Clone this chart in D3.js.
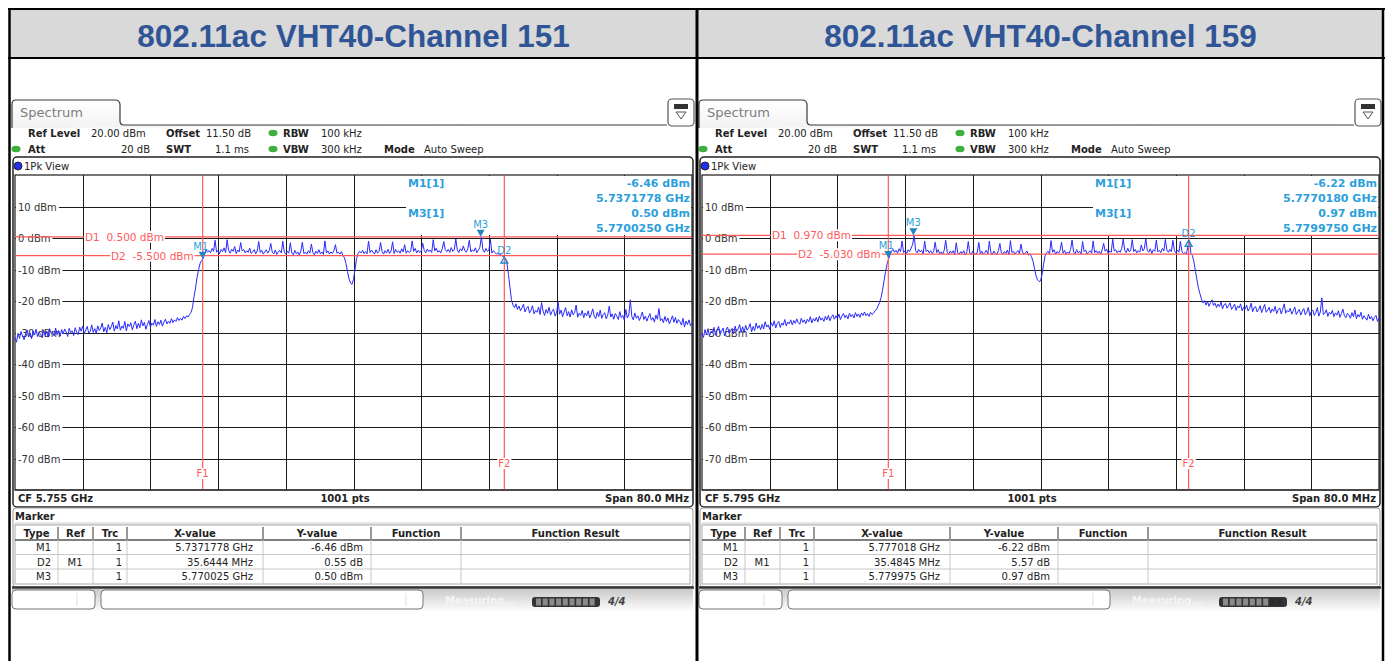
<!DOCTYPE html>
<html><head><meta charset="utf-8">
<script src="https://cdn.jsdelivr.net/npm/d3@7/dist/d3.min.js"></script>
<style>
body{margin:0;background:#fff;}
svg{display:block;}
</style>
</head><body>
<svg id="c" width="1391" height="661"></svg>
<script>
// ---------------- DATA ----------------
const panelTitles = ["802.11ac VHT40-Channel 151", "802.11ac VHT40-Channel 159"];
const centerFreqGHz = [5.755, 5.795];
const spanMHz = 80;
const sweepPoints = "1001 pts";
const levelTicks = [10, 0, -10, -20, -30, -40, -50, -60, -70];
const levelRange = [-80, 20];
const d1Levels = [0.5, 0.97];
const d2Levels = [-5.5, -5.03];
const d1Labels = ["D1  0.500 dBm", "D1  0.970 dBm"];
const d2Labels = ["D2  -5.500 dBm", "D2  -5.030 dBm"];
const f1GHz = [5.7371778, 5.777018];
const f2GHz = [5.7728222, 5.8125025];
const m1Freq = [5.7371778, 5.777018];
const m1Level = [-6.46, -6.22];
const m3Freq = [5.770025, 5.779975];
const m3Level = [0.50, 0.97];
const d2DeltaMHz = [35.6444, 35.4845];
const d2DeltaDb = [0.55, 5.57];
const markerInfo = [
  ["-6.46 dBm", "5.7371778 GHz", "0.50 dBm", "5.7700250 GHz"],
  ["-6.22 dBm", "5.7770180 GHz", "0.97 dBm", "5.7799750 GHz"]
];
const tableHeader = ["Type", "Ref", "Trc", "X-value", "Y-value", "Function", "Function Result"];
const tableRows = [
  [["M1", "", "1", "5.7371778 GHz", "-6.46 dBm", "", ""],
   ["D2", "M1", "1", "35.6444 MHz", "0.55 dB", "", ""],
   ["M3", "", "1", "5.770025 GHz", "0.50 dBm", "", ""]],
  [["M1", "", "1", "5.777018 GHz", "-6.22 dBm", "", ""],
   ["D2", "M1", "1", "35.4845 MHz", "5.57 dB", "", ""],
   ["M3", "", "1", "5.779975 GHz", "0.97 dBm", "", ""]]
];
// trace samples (dBm), evenly spaced sweep points across the 80 MHz span
const traceCh151 = [
  -31.5,-33.0,-30.2,-31.8,-29.6,-31.0,-32.2,-30.4,-29.1,-31.3,
  -30.0,-31.9,-29.4,-30.7,-28.9,-31.2,-29.8,-30.5,-31.6,-29.2,
  -30.8,-29.5,-31.4,-28.7,-30.2,-29.9,-31.0,-28.5,-30.6,-29.3,
  -31.1,-29.0,-30.4,-28.8,-29.7,-31.2,-28.6,-30.0,-29.4,-30.9,
  -28.4,-29.8,-30.6,-28.2,-29.5,-27.9,-30.3,-29.1,-28.0,-30.1,
  -29.6,-27.5,-29.9,-28.7,-30.2,-27.8,-29.3,-28.5,-26.9,-29.7,
  -28.3,-30.0,-27.4,-29.0,-28.1,-26.6,-29.5,-27.7,-28.8,-26.2,
  -29.2,-27.9,-28.6,-26.4,-29.4,-27.2,-28.0,-26.8,-29.1,-27.5,
  -26.3,-28.7,-27.0,-28.4,-25.9,-27.8,-26.7,-28.9,-27.3,-26.1,
  -28.2,-26.9,-27.6,-25.8,-28.0,-26.5,-27.4,-26.0,-27.9,-26.6,
  -25.7,-27.2,-26.3,-27.0,-25.5,-26.8,-25.9,-26.4,-25.2,-26.1,
  -25.4,-26.0,-24.8,-25.5,-24.6,-25.0,-24.2,-23.5,-22.0,-18.5,
  -15.8,-12.5,-10.0,-8.0,-7.0,-6.46,-4.8,-3.6,-4.3,-3.9,
  -4.6,-3.2,-4.1,-0.6,-4.4,-3.8,-4.9,-3.5,-4.2,-3.0,
  -4.5,-0.4,-3.9,-4.7,-3.4,-4.1,-2.6,-4.8,-3.7,-4.3,
  -1.3,-4.0,-3.5,-4.6,-3.9,-4.4,-3.1,-4.8,-4.2,-3.6,
  -4.9,-4.0,-1.0,-4.5,-3.8,-5.0,-4.3,-3.6,-4.7,-3.9,
  -1.6,-4.4,-4.9,-3.7,-5.1,-4.2,-3.9,-4.6,-0.9,-4.3,
  -5.0,-4.1,-4.7,-1.4,-4.6,-5.2,-3.8,-4.9,-4.3,-5.3,
  -4.0,-1.2,-4.8,-4.4,-5.0,-3.9,-4.7,-1.8,-4.5,-5.2,
  -4.1,-4.8,-3.6,-4.9,-4.3,-5.1,-0.8,-4.6,-4.0,-5.0,
  -4.3,-4.8,-3.9,-2.0,-4.7,-4.4,-5.0,-4.2,-5.4,-6.2,
  -8.0,-10.5,-12.8,-14.2,-14.6,-13.0,-9.8,-6.5,-4.9,-4.1,
  -4.6,-3.8,-4.8,-4.2,-4.9,-0.9,-4.5,-3.7,-4.4,-5.0,
  -3.6,-4.7,-4.1,-1.3,-4.2,-5.0,-3.9,-4.6,-3.5,-4.8,
  -4.0,-1.1,-4.8,-3.5,-4.4,-4.0,-4.7,-3.3,-4.3,-2.0,
  -4.7,-3.9,-4.5,-4.1,-0.8,-4.1,-3.2,-4.6,-3.8,-4.5,
  -4.0,-1.5,-3.8,-4.6,-3.4,-4.2,-3.7,-4.5,-0.4,-4.0,
  -3.1,-4.4,-3.9,-4.6,-3.3,-1.0,-3.6,-4.2,-3.5,-4.4,
  -2.9,-4.1,-3.6,-0.2,-3.7,-4.5,-3.3,-4.0,-2.4,-3.9,
  -4.4,-3.2,-0.6,-4.3,-3.6,-4.1,-3.0,-4.5,-3.8,-2.8,
  0.5,-3.6,-4.4,-3.2,-4.1,-3.7,-0.3,-4.7,-3.9,-4.5,
  -5.0,-4.6,-5.4,-5.1,-5.7,-5.9,-6.5,-8.0,-11.5,-15.5,
  -19.5,-21.2,-22.0,-20.8,-22.6,-21.5,-23.0,-22.1,-20.9,-23.4,
  -22.3,-21.6,-23.7,-22.8,-21.4,-24.0,-22.9,-23.5,-21.8,-24.2,
  -20.4,-23.1,-24.5,-22.6,-23.8,-21.9,-24.4,-23.2,-22.5,-24.7,
  -23.6,-20.3,-24.1,-22.8,-24.9,-23.4,-22.0,-24.6,-23.3,-25.0,
  -22.7,-24.3,-23.6,-21.2,-25.1,-23.8,-24.5,-22.9,-25.2,-23.7,
  -24.6,-23.0,-25.3,-24.1,-22.4,-24.8,-25.5,-23.5,-24.9,-22.8,
  -25.4,-24.2,-23.6,-25.6,-24.4,-21.5,-25.0,-24.0,-25.7,-23.9,
  -24.7,-25.8,-23.3,-25.2,-24.5,-26.0,-22.6,-25.3,-24.3,-19.5,
  -24.8,-25.9,-23.7,-25.4,-24.6,-26.1,-24.9,-23.4,-25.8,-24.7,
  -26.3,-25.0,-23.9,-26.0,-25.2,-26.6,-24.4,-25.7,-22.3,-26.2,
  -25.5,-26.8,-24.8,-26.4,-25.3,-27.2,-25.9,-24.6,-26.7,-25.1,
  -27.0,-25.8,-26.5,-27.6,-25.4,-28.2,-26.3,-27.4,-25.9,-27.8,
  -26.8
];
const traceCh159 = [
  -30.2,-31.5,-29.0,-30.6,-28.7,-31.1,-29.5,-30.0,-28.3,-30.8,
  -29.2,-28.0,-30.4,-29.6,-28.5,-31.0,-29.1,-28.2,-30.1,-29.4,
  -28.6,-30.3,-27.9,-29.5,-28.8,-27.4,-29.9,-28.1,-30.0,-27.6,
  -29.2,-28.4,-27.1,-29.7,-28.0,-29.3,-26.9,-28.6,-27.7,-29.0,
  -27.3,-28.8,-26.5,-28.2,-27.5,-28.9,-26.8,-27.9,-26.2,-28.5,
  -27.1,-26.4,-28.3,-26.9,-27.6,-25.8,-27.8,-26.6,-27.2,-25.9,
  -27.5,-26.1,-27.0,-25.6,-26.8,-27.3,-25.4,-26.7,-25.9,-27.1,
  -25.7,-26.5,-24.9,-26.9,-25.5,-26.3,-25.1,-26.6,-24.7,-26.0,
  -25.3,-26.4,-24.8,-25.9,-24.5,-26.2,-25.0,-24.3,-25.7,-24.6,
  -25.4,-24.1,-25.8,-24.7,-23.9,-25.2,-24.4,-25.6,-23.8,-24.9,
  -24.2,-25.3,-23.6,-24.8,-24.0,-25.1,-23.7,-24.5,-23.4,-24.6,
  -23.9,-24.8,-23.5,-24.2,-23.8,-23.0,-22.6,-21.5,-20.5,-18.8,
  -16.5,-13.5,-10.5,-8.2,-6.6,-5.2,-4.1,-3.5,-4.4,-3.8,
  -4.7,-3.3,-4.2,-0.8,-4.5,-3.9,-4.8,-3.6,-4.2,-3.1,
  -2.0,0.97,-3.9,-4.6,-3.5,-4.3,-3.8,-4.9,-0.9,-4.2,
  -3.7,-4.6,-3.9,-4.8,-4.1,-1.2,-4.5,-3.6,-4.9,-4.3,
  -5.0,-3.8,-0.6,-4.4,-5.1,-4.0,-4.7,-3.9,-5.2,-1.4,
  -4.6,-5.0,-4.2,-4.8,-3.9,-5.3,-4.4,-1.0,-4.7,-5.1,
  -4.0,-4.8,-5.2,-4.3,-1.3,-4.9,-4.1,-5.0,-4.5,-3.8,
  -4.9,-0.9,-4.4,-5.2,-4.0,-4.7,-5.1,-3.9,-1.6,-4.6,
  -5.0,-4.2,-4.8,-3.7,-5.2,-0.7,-4.5,-4.1,-5.0,-4.4,
  -3.9,-4.8,-1.8,-4.3,-5.1,-4.6,-4.0,-5.3,-4.9,-5.8,
  -7.2,-9.5,-11.8,-13.2,-13.7,-13.5,-11.5,-8.4,-5.6,-4.6,
  -4.1,-4.9,-0.7,-4.4,-3.6,-5.0,-4.2,-4.7,-3.8,-1.2,
  -4.7,-3.8,-5.1,-4.3,-4.8,-3.5,-0.5,-4.3,-4.9,-3.6,
  -4.6,-4.1,-5.0,-1.0,-4.2,-3.7,-5.0,-4.4,-3.9,-4.7,
  -0.8,-4.5,-3.9,-4.7,-4.1,-5.0,-3.6,-1.6,-4.1,-3.4,
  -4.8,-4.0,-4.4,-0.3,-4.0,-3.6,-4.6,-3.9,-4.4,-3.2,
  -0.2,-3.8,-4.5,-3.1,-4.3,-3.7,-0.4,-4.2,-3.5,-4.6,
  -3.9,-4.4,-2.1,-4.0,-3.3,-0.1,-3.9,-4.4,-3.3,-4.8,
  -3.6,-4.1,-0.5,-4.3,-3.8,-4.5,-3.2,-4.0,-0.3,-3.7,
  -4.4,-3.5,-4.2,-0.6,-3.9,-4.6,-3.7,-4.4,-0.9,-4.2,
  -4.8,-4.5,-5.0,-2.5,-0.65,-4.8,-5.5,-7.5,-10.5,-13.2,
  -15.8,-17.6,-19.3,-20.5,-19.8,-21.2,-20.1,-21.6,-20.4,-19.5,
  -21.3,-20.6,-22.0,-20.9,-21.7,-20.2,-22.4,-21.1,-20.7,-22.2,
  -21.4,-20.5,-22.6,-21.8,-20.9,-22.9,-21.5,-22.1,-20.8,-23.0,
  -21.9,-22.5,-21.2,-23.1,-22.3,-20.6,-23.3,-22.0,-21.7,-23.4,
  -22.6,-21.4,-23.6,-22.2,-21.0,-23.5,-22.8,-21.9,-23.7,-22.4,
  -23.2,-21.6,-23.9,-22.7,-22.1,-24.0,-22.5,-20.8,-23.8,-22.9,
  -23.4,-22.2,-24.1,-23.0,-21.8,-24.2,-23.3,-22.6,-24.4,-23.1,
  -22.3,-24.3,-23.5,-21.9,-24.6,-23.2,-22.8,-24.5,-23.6,-22.0,
  -24.7,-23.4,-18.9,-24.2,-23.8,-22.7,-24.8,-23.5,-24.1,-22.9,
  -24.9,-23.7,-24.4,-23.0,-25.1,-23.9,-22.5,-24.6,-25.2,-23.8,
  -24.3,-25.4,-23.6,-24.9,-22.8,-25.5,-24.2,-25.0,-23.5,-25.7,
  -24.6,-25.3,-26.0,-24.1,-25.6,-24.8,-26.2,-25.1,-24.5,-26.4,
  -25.3
];
const traces = [traceCh151, traceCh159];

// ---------------- DRAWING ----------------
const svg = d3.select("#c");
const defs = svg.append("defs");
const gStat = defs.append("linearGradient").attr("id","statg").attr("x1",0).attr("y1",0).attr("x2",0).attr("y2",1);
gStat.append("stop").attr("offset","0").attr("stop-color","#c9c9c9");
gStat.append("stop").attr("offset","1").attr("stop-color","#ffffff");
const gTab = defs.append("linearGradient").attr("id","tabg").attr("x1",0).attr("y1",0).attr("x2",0).attr("y2",1);
gTab.append("stop").attr("offset","0").attr("stop-color","#ffffff");
gTab.append("stop").attr("offset","1").attr("stop-color","#f2f2f2");

const RED = "#ff5a5a", MBLUE = "#2c9fdc", TRACE = "#2828ff", GRID = "#1c1c1c", TXT = "#222";
const FONT = "'DejaVu Sans', sans-serif";

function txt(g, x, y, s, o = {}) {
  return g.append("text").attr("x", x).attr("y", y).text(s)
    .style("font-family", o.family || FONT)
    .style("white-space", "pre")
    .attr("font-size", o.size || 10)
    .attr("font-weight", o.bold ? "bold" : "normal")
    .attr("fill", o.fill || TXT)
    .attr("text-anchor", o.anchor || "start");
}
function bgText(g, x, y, s, o = {}) {
  const r = g.append("rect").attr("fill", "#fff");
  const t = txt(g, x, y, s, o);
  const b = t.node().getBBox();
  const p = o.pad == null ? 1 : o.pad;
  r.attr("x", b.x - p).attr("y", b.y).attr("width", b.width + 2 * p).attr("height", b.height);
  return t;
}

function drawPanel(idx, ox) {
  const g = svg.append("g").attr("transform", `translate(${ox},0)`);
  const cf = centerFreqGHz[idx];
  const half = spanMHz / 2000;
  const X0 = 15, X1 = 692, YT = 175, YB = 490;
  const x = d3.scaleLinear().domain([cf - half, cf + half]).range([X0, X1]);
  const y = d3.scaleLinear().domain(levelRange).range([YB, YT + 0.5]);
  const data = traces[idx];
  const idxScale = d3.scaleLinear().domain([0, data.length - 1]).range([cf - half, cf + half]);

  // tab
  g.append("path").attr("d", "M12,128 V104 Q12,100 16,100 H115 Q120,100 120,105 V121 Q120,125 124,125 H667")
    .attr("fill", "url(#tabg)").attr("stroke", "#3a3a3a").attr("stroke-width", 1.2);
  txt(g, 20, 117, "Spectrum", {size: 13, fill: "#7d7d7d"});
  // icon
  g.append("rect").attr("x", 668).attr("y", 99).attr("width", 26).attr("height", 27).attr("rx", 4)
    .attr("fill", "#fff").attr("stroke", "#555").attr("stroke-width", 1.2);
  g.append("rect").attr("x", 674).attr("y", 104).attr("width", 14).attr("height", 5).attr("fill", "#333");
  g.append("path").attr("d", "M676,112 L686,112 L681,119 Z").attr("fill", "none").attr("stroke", "#555");

  // info block
  const dot = (cx, cy) => g.append("ellipse").attr("cx", cx).attr("cy", cy).attr("rx", 4.5).attr("ry", 3.2).attr("fill", "#3fae3f");
  txt(g, 28, 137, "Ref Level", {bold: true});
  txt(g, 91, 137, "20.00 dBm");
  txt(g, 166, 137, "Offset", {bold: true});
  txt(g, 206, 137, "11.50 dB");
  dot(273, 133);
  txt(g, 283, 137, "RBW", {bold: true});
  txt(g, 321, 137, "100 kHz");
  dot(16, 149);
  txt(g, 28, 153, "Att", {bold: true});
  txt(g, 150, 153, "20 dB", {anchor: "end"});
  txt(g, 166, 153, "SWT", {bold: true});
  txt(g, 249, 153, "1.1 ms", {anchor: "end"});
  dot(273, 149);
  txt(g, 283, 153, "VBW", {bold: true});
  txt(g, 321, 153, "300 kHz");
  txt(g, 384, 153, "Mode", {bold: true});
  txt(g, 424, 153, "Auto Sweep");

  // view frame
  g.append("rect").attr("x", 13).attr("y", 157).attr("width", 680).attr("height", 350).attr("rx", 4)
    .attr("fill", "#fff").attr("stroke", "#222").attr("stroke-width", 1.5);
  g.append("circle").attr("cx", 18).attr("cy", 166).attr("r", 4).attr("fill", "#2233ee").attr("stroke", "#223");
  txt(g, 24, 170, "1Pk View");

  // grid
  const vLines = d3.range(1, 10).map(k => cf - half + k * spanMHz / 10000);
  g.selectAll(null).data(vLines).join("line")
    .attr("x1", d => Math.round(x(d)) + 0.5).attr("x2", d => Math.round(x(d)) + 0.5)
    .attr("y1", YT).attr("y2", YB).attr("stroke", GRID).attr("stroke-width", 1);
  g.selectAll(null).data(levelTicks).join("line")
    .attr("x1", X0).attr("x2", X1)
    .attr("y1", d => Math.round(y(d)) + 0.5).attr("y2", d => Math.round(y(d)) + 0.5)
    .attr("stroke", GRID).attr("stroke-width", 1);
  levelTicks.forEach(v => {
    bgText(g, 18, Math.round(y(v)) + 4, `${v} dBm`, {size: 10, fill: "#333", pad: 2});
  });
  g.append("rect").attr("x", X0).attr("y", YT).attr("width", X1 - X0).attr("height", YB - YT)
    .attr("fill", "none").attr("stroke", GRID).attr("stroke-width", 1.2);

  // marker info box
  g.append("rect").attr("x", 406).attr("y", YT + 1).attr("width", X1 - 407).attr("height", 59).attr("fill", "#fff");
  txt(g, 408, 187, "M1[1]", {size: 11, bold: true, fill: MBLUE});
  txt(g, 408, 217, "M3[1]", {size: 11, bold: true, fill: MBLUE});
  markerInfo[idx].forEach((s, i) => txt(g, 690, 187 + i * 15, s, {size: 11, bold: true, fill: MBLUE, anchor: "end"}));

  // trace
  const line = d3.line().x((d, i) => x(idxScale(i))).y(d => y(d));
  g.append("path").datum(data).attr("d", line).attr("fill", "none").attr("stroke", TRACE).attr("stroke-width", 1);

  // display lines
  [[d1Levels[idx], d1Labels[idx], 85], [d2Levels[idx], d2Labels[idx], 111]].forEach(([lv, lab, lx]) => {
    const yy = y(lv);
    g.append("line").attr("x1", X0).attr("x2", X1).attr("y1", yy).attr("y2", yy).attr("stroke", RED).attr("stroke-width", 1.2);
    bgText(g, lx, yy + 4, lab, {size: 10.5, fill: RED, pad: 1});
  });
  // frequency lines
  [[f1GHz[idx], "F1", 477], [f2GHz[idx], "F2", 467]].forEach(([f, lab, ly]) => {
    g.append("line").attr("x1", x(f)).attr("x2", x(f)).attr("y1", YT).attr("y2", YB).attr("stroke", RED).attr("stroke-width", 1.2);
    bgText(g, x(f), ly, lab, {size: 10, fill: RED, anchor: "middle", pad: 1});
  });

  // markers
  const mx1 = x(m1Freq[idx]), my1 = y(m1Level[idx]);
  g.append("path").attr("d", `M${mx1 - 4},${my1 - 7} L${mx1 + 4},${my1 - 7} L${mx1},${my1} Z`).attr("fill", "#1c86c6");
  txt(g, mx1 - 2, my1 - 9, "M1", {size: 10, fill: MBLUE, anchor: "middle"});
  const mx3 = x(m3Freq[idx]), my3 = y(m3Level[idx]);
  g.append("path").attr("d", `M${mx3 - 4},${my3 - 7} L${mx3 + 4},${my3 - 7} L${mx3},${my3} Z`).attr("fill", "#1c86c6");
  txt(g, mx3, my3 - 9, "M3", {size: 10, fill: MBLUE, anchor: "middle"});
  const dx2 = x(m1Freq[idx] + d2DeltaMHz[idx] / 1000), dy2 = y(m1Level[idx] + d2DeltaDb[idx]);
  g.append("path").attr("d", `M${dx2},${dy2} L${dx2 + 3.5},${dy2 + 6} L${dx2 - 3.5},${dy2 + 6} Z`)
    .attr("fill", "none").attr("stroke", "#1c86c6").attr("stroke-width", 1.3);
  txt(g, dx2, dy2 - 3, "D2", {size: 10, fill: MBLUE, anchor: "middle"});

  // bottom info row
  g.append("line").attr("x1", X0).attr("x2", X1).attr("y1", YB).attr("y2", YB).attr("stroke", GRID).attr("stroke-width", 1.2);
  txt(g, 18, 502, `CF ${cf.toFixed(3)} GHz`, {bold: true});
  txt(g, 345, 502, sweepPoints, {bold: true, anchor: "middle"});
  txt(g, 689, 502, `Span ${spanMHz.toFixed(1)} MHz`, {bold: true, anchor: "end"});

  // marker table panel
  g.append("rect").attr("x", 13).attr("y", 508).attr("width", 680).attr("height", 79).attr("rx", 3)
    .attr("fill", "#fff").attr("stroke", "#999").attr("stroke-width", 1);
  g.append("line").attr("x1", 12).attr("x2", 694).attr("y1", 587.5).attr("y2", 587.5).attr("stroke", "#333").attr("stroke-width", 2.5);
  txt(g, 15, 520, "Marker", {bold: true});
  g.append("rect").attr("x", 15).attr("y", 522).attr("width", 675).attr("height", 3).attr("fill", "#e4e4e4");
  const cols = [15, 58, 93, 127, 263, 371, 461, 690];
  const rowY = [525, 540, 554.5, 569, 584];
  g.append("rect").attr("x", 15).attr("y", 525).attr("width", 675).attr("height", 59).attr("fill", "#fff").attr("stroke", "#aaa");
  rowY.slice(1, 4).forEach((ry, i) => g.append("line").attr("x1", 15).attr("x2", 690).attr("y1", ry).attr("y2", ry)
    .attr("stroke", i === 0 ? "#555" : "#c8c8c8").attr("stroke-width", i === 0 ? 1.5 : 1));
  cols.slice(1, 7).forEach(cx => {
    g.append("line").attr("x1", cx).attr("x2", cx).attr("y1", 527).attr("y2", 539).attr("stroke", "#555").attr("stroke-width", 1.2);
    g.append("line").attr("x1", cx).attr("x2", cx).attr("y1", 540).attr("y2", 584).attr("stroke", "#c8c8c8");
  });
  tableHeader.forEach((h, i) => txt(g, (cols[i] + cols[i + 1]) / 2, 537, h, {bold: true, anchor: "middle"}));
  const alignX = [[51, "end"], [75, "middle"], [122, "end"], [253, "end"], [363, "end"], [416, "middle"], [575, "middle"]];
  tableRows[idx].forEach((row, r) => {
    row.forEach((c, i) => { if (c) txt(g, alignX[i][0], rowY[r + 1] + 11, c, {anchor: alignX[i][1]}); });
  });

  // status bar
  g.append("rect").attr("x", 12).attr("y", 589).attr("width", 681).attr("height", 23).attr("fill", "url(#statg)");
  g.append("rect").attr("x", 12).attr("y", 590).attr("width", 83).attr("height", 19).attr("rx", 4)
    .attr("fill", "#fff").attr("stroke", "#777");
  g.append("rect").attr("x", 101).attr("y", 590).attr("width", 322).attr("height", 19).attr("rx", 4)
    .attr("fill", "#fff").attr("stroke", "#777");
  g.append("line").attr("x1", 77).attr("x2", 77).attr("y1", 593).attr("y2", 606).attr("stroke", "#ddd");
  g.append("line").attr("x1", 406).attr("x2", 406).attr("y1", 593).attr("y2", 606).attr("stroke", "#ddd");
  txt(g, 445, 604, "Measuring...", {bold: true, fill: "#f4f4f4"});
  g.append("rect").attr("x", 532).attr("y", 597).attr("width", 68).attr("height", 10).attr("rx", 3).attr("fill", "#333");
  g.selectAll(null).data(d3.range(9)).join("rect")
    .attr("x", d => 536 + d * 6.7).attr("y", 598.5).attr("width", 5).attr("height", 7)
    .attr("fill", d => (idx === 1 && d >= 7) ? "#2a2a2a" : "#8a8a8a");
  txt(g, 608, 605, "4/4", {bold: true, fill: "#444", size: 10}).style("font-style", "italic");
}

// header cells
svg.append("rect").attr("x", 10).attr("y", 9).attr("width", 1374).attr("height", 49).attr("fill", "#d9d9d9");
panelTitles.forEach((t, i) => {
  svg.append("text").attr("x", [353.5, 1040.5][i]).attr("y", 47).attr("text-anchor", "middle")
    .style("font-family", "'Liberation Sans', Arial, sans-serif").attr("font-weight", "bold")
    .attr("font-size", 31.5).attr("fill", "#2f5597").text(t);
});

drawPanel(0, 0);
drawPanel(1, 687);

// table borders
const B = "#000";
svg.append("line").attr("x1", 8).attr("x2", 1385).attr("y1", 9).attr("y2", 9).attr("stroke", B).attr("stroke-width", 2);
svg.append("line").attr("x1", 8).attr("x2", 1385).attr("y1", 58).attr("y2", 58).attr("stroke", B).attr("stroke-width", 2);
[9.5, 697, 1383].forEach(xx => svg.append("line").attr("x1", xx).attr("x2", xx).attr("y1", 8).attr("y2", 661)
  .attr("stroke", B).attr("stroke-width", xx === 697 ? 3 : 2.5));
</script>
</body></html>
